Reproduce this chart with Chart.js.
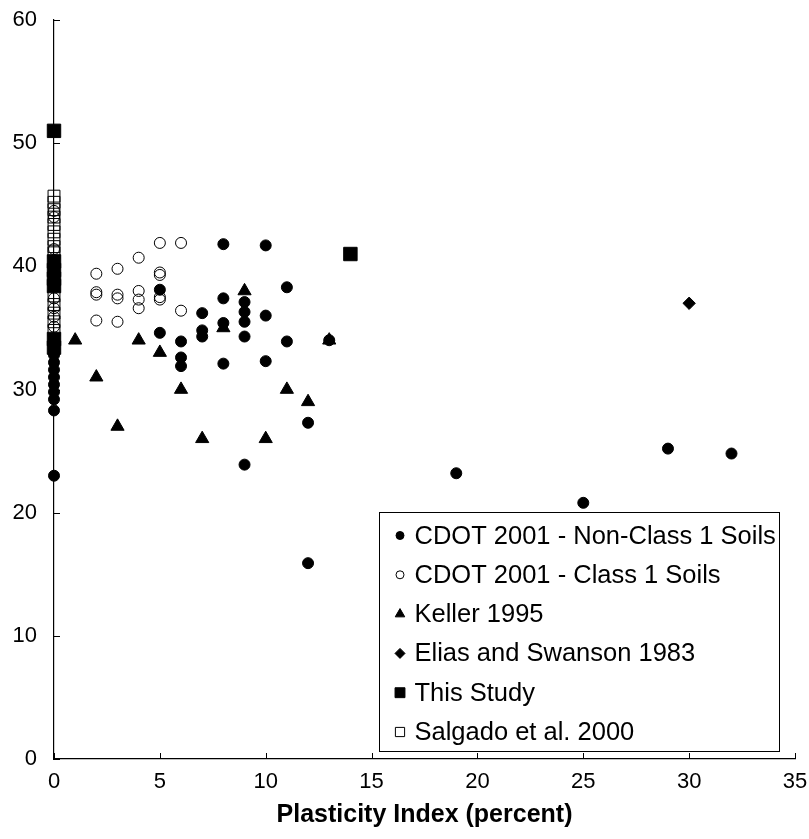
<!DOCTYPE html>
<html>
<head>
<meta charset="utf-8">
<script src="https://cdn.jsdelivr.net/npm/chart.js@4.4.0/dist/chart.umd.min.js"></script>
<style>
  html, body { margin: 0; padding: 0; background: #ffffff; }
  #wrap { width: 809px; height: 839px; position: relative; }
</style>
</head>
<body>
<div id="wrap"><canvas id="chart" width="809" height="839"></canvas></div>
<script>
// Plasticity index (x, percent) against friction angle (y, degrees)
const seriesLabels = [
  'CDOT 2001 - Non-Class 1 Soils',
  'CDOT 2001 - Class 1 Soils',
  'Keller 1995',
  'Elias and Swanson 1983',
  'This Study',
  'Salgado et al. 2000'
];

const nonClass1Soils = [
  [0, 23.0], [0, 28.3], [0, 29.2], [0, 29.8], [0, 30.4], [0, 31.0], [0, 31.6],
  [0, 32.2], [0, 32.8], [0, 33.4], [0, 34.0],
  [5, 38.1], [5, 34.6],
  [6, 33.9], [6, 32.6], [6, 31.9],
  [7, 36.2], [7, 34.8], [7, 34.3],
  [8, 41.8], [8, 37.4], [8, 35.4], [8, 32.1],
  [9, 37.1], [9, 36.3], [9, 35.5], [9, 34.3], [9, 23.9],
  [10, 41.7], [10, 36.0], [10, 32.3],
  [11, 38.3], [11, 33.9],
  [12, 27.3], [12, 15.9],
  [13, 34.0],
  [19, 23.2], [25, 20.8], [29, 25.2], [32, 24.8]
];

const class1Soils = [
  [0, 44.5], [0, 44.0], [0, 41.4], [0, 37.4], [0, 36.6], [0, 35.9], [0, 35.1],
  [2, 39.4], [2, 37.9], [2, 37.7], [2, 35.6],
  [3, 39.8], [3, 37.7], [3, 37.4], [3, 35.5],
  [4, 40.7], [4, 38.0], [4, 37.3], [4, 36.6],
  [5, 41.9], [5, 39.5], [5, 39.3], [5, 37.5], [5, 37.3],
  [6, 41.9], [6, 36.4]
];

const keller1995 = [
  [1, 34], [2, 31], [3, 27], [4, 34], [5, 33], [6, 30], [7, 26],
  [8, 35], [9, 38], [10, 26], [11, 30], [12, 29], [13, 34]
];

const eliasSwanson1983 = [[30, 37.0]];

const thisStudy = [
  [0, 51.0], [14, 41.0], [0, 40.4], [0, 39.7], [0, 39.0], [0, 38.4], [0, 34.1], [0, 33.4]
];

const salgado2000 = [
  [0, 45.7], [0, 45.2], [0, 44.6], [0, 44.0], [0, 43.4], [0, 42.8], [0, 42.2],
  [0, 41.6], [0, 41.1], [0, 37.6], [0, 36.9], [0, 36.2], [0, 35.5], [0, 34.8]
];

const xTickValues = [0, 5, 10, 15, 20, 25, 30, 35];
const yTickValues = [0, 10, 20, 30, 40, 50, 60];
const xAxisTitle = 'Plasticity Index (percent)';

const FONT = '"Liberation Sans", Arial, Helvetica, sans-serif';

const toPoints = (pairs) => pairs.map(([x, y]) => ({ x, y }));

// marker looks: style, radius on plot, radius in legend, fill, stroke
const markerLooks = [
  { style: 'circle',   r: 5.5, lr: 4,   fill: '#000000',       stroke: '#000000' },
  { style: 'circle',   r: 5.5, lr: 4,   fill: 'rgba(0,0,0,0)', stroke: '#000000' },
  { style: 'triangle', r: 7.6, lr: 5.5, fill: '#000000',       stroke: '#000000' },
  { style: 'rectRot',  r: 6.2, lr: 5,   fill: '#000000',       stroke: '#000000' },
  { style: 'rect',     r: 9.5, lr: 7,   fill: '#000000',       stroke: '#000000' },
  { style: 'rect',     r: 8.4, lr: 6.5, fill: 'rgba(0,0,0,0)', stroke: '#000000' }
];

const seriesData = [nonClass1Soils, class1Soils, keller1995, eliasSwanson1983, thisStudy, salgado2000];

const datasets = seriesData.map((pairs, i) => ({
  label: seriesLabels[i],
  data: toPoints(pairs),
  pointStyle: markerLooks[i].style,
  pointRadius: markerLooks[i].r,
  pointHoverRadius: markerLooks[i].r,
  pointBackgroundColor: markerLooks[i].fill,
  pointBorderColor: markerLooks[i].stroke,
  pointBorderWidth: 1,
  showLine: false,
  clip: false,
  // later series are painted over earlier ones
  order: seriesData.length - 1 - i
}));

// Tick marks that point into the plot area
const innerTicks = {
  id: 'innerTicks',
  beforeDatasetsDraw(chart) {
    const { ctx, scales: { x, y } } = chart;
    ctx.save();
    ctx.strokeStyle = '#000000';
    ctx.lineWidth = 1;
    ctx.beginPath();
    x.ticks.forEach(t => {
      const px = Math.round(x.getPixelForValue(t.value)) + 0.5;
      ctx.moveTo(px, y.bottom);
      ctx.lineTo(px, y.bottom - 6);
    });
    y.ticks.forEach(t => {
      const py = Math.round(y.getPixelForValue(t.value)) + 0.5;
      ctx.moveTo(x.left, py);
      ctx.lineTo(x.left + 6, py);
    });
    ctx.stroke();
    ctx.restore();
  }
};

// Boxed legend in the lower right of the plot
const boxedLegend = {
  id: 'boxedLegend',
  afterDatasetsDraw(chart) {
    const ctx = chart.ctx;
    const left = 379.5, top = 512.5, w = 400, h = 239;
    const rowStart = top + 23, rowStep = 39.3;
    ctx.save();
    ctx.fillStyle = '#ffffff';
    ctx.fillRect(left, top, w, h);
    ctx.strokeStyle = '#000000';
    ctx.lineWidth = 1;
    ctx.strokeRect(left, top, w, h);
    ctx.font = '25.5px ' + FONT;
    ctx.textBaseline = 'middle';
    ctx.textAlign = 'left';
    chart.data.datasets.forEach((ds, i) => {
      const cy = rowStart + i * rowStep;
      const look = markerLooks[i];
      ctx.fillStyle = look.fill;
      ctx.strokeStyle = look.stroke;
      ctx.lineWidth = 1;
      Chart.helpers.drawPoint(ctx, { pointStyle: look.style, radius: look.lr, borderWidth: 1, rotation: 0 }, left + 20.5, cy);
      ctx.fillStyle = '#000000';
      ctx.fillText(ds.label, left + 35, cy + 1);
    });
    ctx.restore();
  }
};

new Chart(document.getElementById('chart'), {
  type: 'scatter',
  data: { datasets },
  plugins: [innerTicks, boxedLegend],
  options: {
    responsive: false,
    devicePixelRatio: 1,
    animation: false,
    events: [],
    layout: { padding: { top: 20, right: 14, left: 0, bottom: 0 } },
    plugins: { legend: { display: false }, tooltip: { enabled: false } },
    scales: {
      x: {
        type: 'linear',
        min: 0, max: 35,
        afterBuildTicks: (scale) => { scale.ticks = xTickValues.map(v => ({ value: v })); },
        afterFit: (scale) => { scale.height = 80; scale.paddingLeft = 0; scale.paddingRight = 0; },
        grid: { display: false, drawTicks: false },
        border: { display: true, color: '#000000', width: 1.2 },
        ticks: { color: '#000000', padding: 10, maxRotation: 0, font: { family: FONT, size: 22 } },
        title: {
          display: true, text: xAxisTitle, color: '#000000',
          font: { family: FONT, size: 25, weight: 'bold' },
          padding: { top: 0, bottom: 9 }
        }
      },
      y: {
        type: 'linear',
        min: 0, max: 60,
        afterBuildTicks: (scale) => { scale.ticks = yTickValues.map(v => ({ value: v })); },
        afterFit: (scale) => { scale.width = 54; scale.paddingTop = 0; scale.paddingBottom = 0; },
        grid: { display: false, drawTicks: false },
        border: { display: true, color: '#000000', width: 1.2 },
        ticks: { color: '#000000', padding: 17, font: { family: FONT, size: 22 } }
      }
    }
  }
});
</script>
</body>
</html>
